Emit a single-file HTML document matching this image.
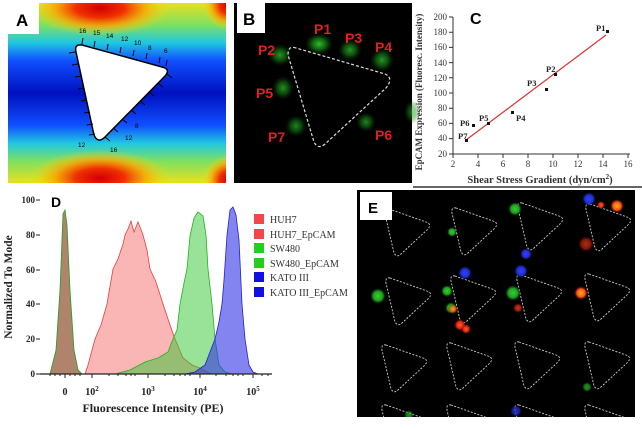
<!DOCTYPE html>
<html><head><meta charset="utf-8"><style>
html,body{margin:0;padding:0;background:#fff;overflow:hidden;width:642px;height:429px;}
svg{display:block;font-family:"Liberation Serif",serif;}
</style></head><body>
<svg width="642" height="429" viewBox="0 0 642 429" xmlns="http://www.w3.org/2000/svg">
<defs>
<linearGradient id="ga" x1="0" y1="0" x2="0" y2="1">
<stop offset="0" stop-color="#e8e020"/>
<stop offset="0.12" stop-color="#7fe060"/>
<stop offset="0.22" stop-color="#20c8e0"/>
<stop offset="0.32" stop-color="#1050ff"/>
<stop offset="0.5" stop-color="#0010c0"/>
<stop offset="0.68" stop-color="#1050ff"/>
<stop offset="0.78" stop-color="#20c8e0"/>
<stop offset="0.88" stop-color="#7fe060"/>
<stop offset="1" stop-color="#e8e020"/>
</linearGradient>
<radialGradient id="rh">
<stop offset="0" stop-color="#d00000"/>
<stop offset="0.35" stop-color="#f03000"/>
<stop offset="0.65" stop-color="#ffa000" stop-opacity="0.8"/>
<stop offset="1" stop-color="#ffe000" stop-opacity="0"/>
</radialGradient>
<radialGradient id="gb">
<stop offset="0" stop-color="#30c030"/>
<stop offset="0.5" stop-color="#1a8a1a" stop-opacity="0.7"/>
<stop offset="1" stop-color="#0a400a" stop-opacity="0"/>
</radialGradient>
<radialGradient id="dg"><stop offset="0" stop-color="#30d030"/><stop offset="0.6" stop-color="#20a020"/><stop offset="1" stop-color="#104010" stop-opacity="0"/></radialGradient>
<radialGradient id="db"><stop offset="0" stop-color="#3040ff"/><stop offset="0.6" stop-color="#2030d0"/><stop offset="1" stop-color="#101060" stop-opacity="0"/></radialGradient>
<radialGradient id="dr"><stop offset="0" stop-color="#ff6020"/><stop offset="0.6" stop-color="#e02010"/><stop offset="1" stop-color="#600000" stop-opacity="0"/></radialGradient>
<radialGradient id="do"><stop offset="0" stop-color="#ffb020"/><stop offset="0.6" stop-color="#ff5010"/><stop offset="1" stop-color="#600000" stop-opacity="0"/></radialGradient>
<clipPath id="ca"><rect x="8" y="3" width="218" height="180"/></clipPath>
<clipPath id="ce"><rect x="357" y="190" width="278" height="227"/></clipPath>
</defs>

<!-- Panel A -->
<g clip-path="url(#ca)">
<rect x="8" y="3" width="218" height="180" fill="url(#ga)"/>
<ellipse cx="100" cy="8" rx="70" ry="28" fill="url(#rh)"/>
<ellipse cx="100" cy="178" rx="70" ry="28" fill="url(#rh)"/>
<ellipse cx="228" cy="5" rx="25" ry="25" fill="url(#rh)"/>
<ellipse cx="228" cy="180" rx="25" ry="25" fill="url(#rh)"/>
</g>
<rect x="8" y="3" width="31" height="31" fill="#fff"/>
<text x="16" y="26" font-family="Liberation Sans,sans-serif" font-size="17" font-weight="bold">A</text>
<path d="M82,45 Q74,44 76,52 L94,135 Q98,144 105,137 L165,76 Q171,69 162,67 Z" fill="#fff" stroke="#000" stroke-width="1.5"/>
<g stroke="#000" stroke-width="1">
<path d="M82,44 l1,-6 M94,47 l1,-6 M107,50 l1,-6 M120,53 l1,-6 M133,56 l1,-6 M146,59 l1,-6 M159,63 l1,-6 M166,66 l1,-6"/>
<path d="M75,52 l-6,1 M78,64 l-6,1 M81,76 l-6,1 M84,88 l-6,1 M87,100 l-6,1 M90,112 l-6,1 M93,124 l-6,1 M95,134 l-6,1"/>
<path d="M167,74 l5,4 M158,83 l5,4 M149,92 l5,4 M140,101 l5,4 M131,110 l5,4 M122,119 l5,4 M113,128 l5,4 M105,137 l5,4"/>
</g>
<g font-family="Liberation Sans,sans-serif" font-size="6.5" fill="#000">
<text x="79" y="33">16</text><text x="93" y="35">15</text><text x="106" y="38">14</text><text x="121" y="41">12</text><text x="134" y="45">10</text><text x="148" y="50">8</text><text x="164" y="53">6</text>
<text x="78" y="147">12</text><text x="110" y="152">16</text><text x="125" y="140">12</text><text x="135" y="128">8</text>
</g>

<!-- Panel B -->
<rect x="234" y="3" width="178" height="180" fill="#000"/>
<ellipse cx="319" cy="44" rx="14" ry="11" fill="url(#gb)"/>
<ellipse cx="280" cy="55" rx="12" ry="11" fill="url(#gb)" opacity="0.8"/>
<ellipse cx="350" cy="50" rx="12" ry="11" fill="url(#gb)" opacity="0.8"/>
<ellipse cx="382" cy="60" rx="12" ry="12" fill="url(#gb)" opacity="0.8"/>
<ellipse cx="283" cy="88" rx="11" ry="12" fill="url(#gb)" opacity="0.75"/>
<ellipse cx="296" cy="126" rx="11" ry="11" fill="url(#gb)" opacity="0.7"/>
<ellipse cx="366" cy="122" rx="10" ry="10" fill="url(#gb)" opacity="0.7"/>
<ellipse cx="412" cy="112" rx="8" ry="12" fill="url(#gb)" opacity="0.6"/>
<path d="M296,48 Q288,45 288,55 L314,142 Q318,150 325,144 L386,88 Q394,78 385,74 Z" fill="none" stroke="#ddd" stroke-width="1.2" stroke-dasharray="3,2"/>
<rect x="237" y="3" width="28" height="30" fill="#fff"/>
<text x="243" y="25" font-family="Liberation Sans,sans-serif" font-size="17" font-weight="bold">B</text>
<g font-family="Liberation Sans,sans-serif" font-size="14" font-weight="bold" fill="#e02020">
<text x="314" y="34">P1</text><text x="258" y="55">P2</text><text x="345" y="43">P3</text><text x="375" y="52">P4</text>
<text x="256" y="98">P5</text><text x="375" y="140">P6</text><text x="268" y="142">P7</text>
</g>

<!-- Panel C -->
<g font-size="9" fill="#333">
<line x1="453" y1="17" x2="453" y2="154" stroke="#333"/>
<line x1="453" y1="154" x2="630" y2="154" stroke="#333"/>
<g stroke="#333">
<path d="M449,17h4 M449,32.2h4 M449,47.4h4 M449,62.6h4 M449,77.8h4 M449,93h4 M449,108.2h4 M449,123.4h4 M449,138.6h4 M449,154h4"/>
<path d="M453,154v4 M478,154v4 M503,154v4 M528,154v4 M553,154v4 M578,154v4 M603,154v4 M628,154v4"/>
</g>
<g text-anchor="end">
<text x="447" y="20">200</text><text x="447" y="35">180</text><text x="447" y="50">160</text><text x="447" y="66">140</text><text x="447" y="81">120</text><text x="447" y="96">100</text><text x="447" y="111">80</text><text x="447" y="126">60</text><text x="447" y="141">40</text><text x="447" y="157">20</text>
</g>
<g text-anchor="middle">
<text x="453" y="167">2</text><text x="478" y="167">4</text><text x="503" y="167">6</text><text x="528" y="167">8</text><text x="553" y="167">10</text><text x="578" y="167">12</text><text x="603" y="167">14</text><text x="628" y="167">16</text>
</g>
<line x1="466" y1="140" x2="606" y2="35" stroke="#e03030" stroke-width="1.2"/>
<g fill="#111">
<rect x="606" y="30" width="3" height="3"/><rect x="554" y="73" width="3" height="3"/><rect x="545" y="88" width="3" height="3"/><rect x="511" y="111" width="3" height="3"/><rect x="487" y="122" width="3" height="3"/><rect x="472" y="124" width="3" height="3"/><rect x="465" y="139" width="3" height="3"/>
</g>
<g font-size="8.5" font-weight="bold" fill="#222">
<text x="596" y="31">P1</text><text x="546" y="72">P2</text><text x="527" y="86">P3</text><text x="516" y="121">P4</text><text x="479" y="121">P5</text><text x="460" y="126">P6</text><text x="458" y="139">P7</text>
</g>
<text x="540" y="183" text-anchor="middle" font-size="10.5" font-weight="bold" fill="#333">Shear Stress Gradient (dyn/cm<tspan font-size="7" dy="-4">2</tspan><tspan dy="4">)</tspan></text>
<text transform="translate(422,92) rotate(-90)" text-anchor="middle" font-size="9" font-weight="bold" fill="#333">EpCAM Expression (Fluoresc. Intensity)</text>
<text x="470" y="24" font-family="Liberation Sans,sans-serif" font-size="16" font-weight="bold" fill="#000">C</text>
</g>
<line x1="413" y1="187" x2="642" y2="187" stroke="#333" stroke-width="1.5"/>

<!-- Panel D -->
<g>
<path d="M85,374 L88,365 L95,339 L101,325 L107,304 L113,269 L118,259 L123,244 L125,235 L128,229 L131,221 L134,232 L138,222 L143,235 L147,250 L150,269 L156,282 L163,304 L169,322 L175,339 L183,358 L192,365 L200,368 L207,372 L212,374 Z" fill="rgba(245,90,90,0.45)" stroke="#e04040" stroke-width="0.8"/>
<path d="M115,374 L130,370 L145,362 L158,358 L168,352 L173,339 L177,330 L180,304 L184,283 L187,269 L190,236 L194,218 L198,212 L203,216 L206,235 L208,269 L212,304 L215,339 L219,365 L225,372 L232,374 Z" fill="rgba(50,200,50,0.5)" stroke="#20b020" stroke-width="0.8"/>
<path d="M185,374 L195,372 L205,365 L215,339 L219,322 L222,304 L224,280 L227,235 L230,210 L233,207 L236,215 L239,240 L242,304 L245,339 L249,365 L253,372 L258,374 Z" fill="rgba(50,50,230,0.6)" stroke="#2020d0" stroke-width="0.8"/>
<path d="M50,374 L56,350 L60,290 L63,214 L65,210 L67,225 L70,290 L74,350 L78,370 L82,374 Z" fill="rgba(150,90,60,0.75)" stroke="#20a020" stroke-width="0.8"/>
<line x1="40" y1="374" x2="272" y2="374" stroke="#222" stroke-width="1.2"/>
<g stroke="#222" stroke-width="1">
<path d="M36,200h4 M36,235h4 M36,270h4 M36,304h4 M36,339h4 M36,374h4"/>
<path d="M92,374v4 M148,374v4 M200,374v4 M253,374v4 M65,374v4"/>
<path d="M50,374v2 M55,374v2 M60,374v2 M70,374v2 M75,374v2 M80,374v2 M109,374v2 M118,374v2 M126,374v2 M131,374v2 M135,374v2 M165,374v2 M174,374v2 M180,374v2 M185,374v2 M190,374v2 M216,374v2 M226,374v2 M233,374v2 M238,374v2 M243,374v2 M262,374v2 M268,374v2"/>
</g>
<g font-size="9" font-weight="bold" fill="#222" text-anchor="end">
<text x="35" y="203">100</text><text x="35" y="238">80</text><text x="35" y="273">60</text><text x="35" y="307">40</text><text x="35" y="342">20</text><text x="35" y="377">0</text>
</g>
<g font-size="10" font-weight="bold" fill="#222" text-anchor="middle">
<text x="65" y="395">0</text>
<text x="92" y="395">10<tspan font-size="7" dy="-4">2</tspan></text>
<text x="148" y="395">10<tspan font-size="7" dy="-4">3</tspan></text>
<text x="200" y="395">10<tspan font-size="7" dy="-4">4</tspan></text>
<text x="253" y="395">10<tspan font-size="7" dy="-4">5</tspan></text>
</g>
<text x="153" y="412" text-anchor="middle" font-size="12" font-weight="bold" fill="#222">Fluorescence Intensity (PE)</text>
<text transform="translate(12,287) rotate(-90)" text-anchor="middle" font-size="11.5" font-weight="bold" fill="#222">Normalized To Mode</text>
<text x="51" y="207" font-family="Liberation Sans,sans-serif" font-size="14" font-weight="bold" fill="#000">D</text>
<g font-size="10" fill="#333">
<rect x="254" y="214" width="10" height="10" fill="#f04848"/><text x="270" y="223">HUH7</text>
<rect x="254" y="229" width="10" height="10" fill="#f04848"/><text x="270" y="238">HUH7_EpCAM</text>
<rect x="254" y="243" width="10" height="10" fill="#20d020"/><text x="270" y="252">SW480</text>
<rect x="254" y="258" width="10" height="10" fill="#20d020"/><text x="270" y="267">SW480_EpCAM</text>
<rect x="254" y="272" width="10" height="10" fill="#1010e0"/><text x="270" y="281">KATO III</text>
<rect x="254" y="287" width="10" height="10" fill="#1010e0"/><text x="270" y="296">KATO III_EpCAM</text>
</g>
</g>

<!-- Panel E -->
<rect x="357" y="190" width="278" height="227" fill="#000"/>
<g clip-path="url(#ce)">
<g fill="none" stroke="#ccc" stroke-width="0.9" stroke-dasharray="2,1.5">
<path id="tri" d="M389,209 Q384,208 385,214 L394,253 Q397,258 401,254 L428,229 Q432,224 426,222 Z"/>
<use href="#tri" x="67" y="-1"/><use href="#tri" x="133" y="-6"/><use href="#tri" x="201" y="-5"/>
<use href="#tri" x="1" y="69"/><use href="#tri" x="66" y="67"/><use href="#tri" x="132" y="66"/><use href="#tri" x="200" y="65"/>
<use href="#tri" x="-3" y="136"/><use href="#tri" x="62" y="134"/><use href="#tri" x="130" y="133"/><use href="#tri" x="200" y="133"/>
<use href="#tri" x="-3" y="196"/><use href="#tri" x="62" y="196"/><use href="#tri" x="130" y="196"/><use href="#tri" x="200" y="196"/>
</g>
<circle cx="515" cy="209" r="7" fill="url(#dg)"/>
<circle cx="452" cy="232" r="5" fill="url(#dg)"/>
<circle cx="526" cy="254" r="6" fill="url(#db)"/>
<circle cx="589" cy="199" r="7" fill="url(#db)"/>
<circle cx="617" cy="206" r="7" fill="url(#do)"/>
<circle cx="601" cy="205" r="4" fill="url(#dr)"/>
<circle cx="586" cy="244" r="8" fill="url(#dr)" opacity="0.6"/>
<circle cx="465" cy="273" r="7" fill="url(#db)"/>
<circle cx="521" cy="271" r="7" fill="url(#db)"/>
<circle cx="378" cy="296" r="8" fill="url(#dg)"/>
<circle cx="447" cy="291" r="6" fill="url(#dg)"/>
<circle cx="451" cy="308" r="6" fill="url(#dg)"/>
<circle cx="453" cy="309" r="5" fill="url(#do)" opacity="0.8"/>
<circle cx="460" cy="325" r="6" fill="url(#dr)"/>
<circle cx="466" cy="329" r="5" fill="url(#dr)"/>
<circle cx="513" cy="293" r="8" fill="url(#dg)"/>
<circle cx="518" cy="308" r="5" fill="url(#dr)" opacity="0.7"/>
<circle cx="581" cy="293" r="7" fill="url(#do)"/>
<circle cx="587" cy="387" r="5" fill="url(#dg)" opacity="0.7"/>
<circle cx="516" cy="411" r="6" fill="url(#db)" opacity="0.7"/>
<circle cx="409" cy="415" r="5" fill="url(#dg)" opacity="0.7"/>
</g>
<rect x="360" y="192" width="32" height="28" fill="#fff"/>
<text x="368" y="213" font-family="Liberation Sans,sans-serif" font-size="15" font-weight="bold">E</text>
</svg>
</body></html>
